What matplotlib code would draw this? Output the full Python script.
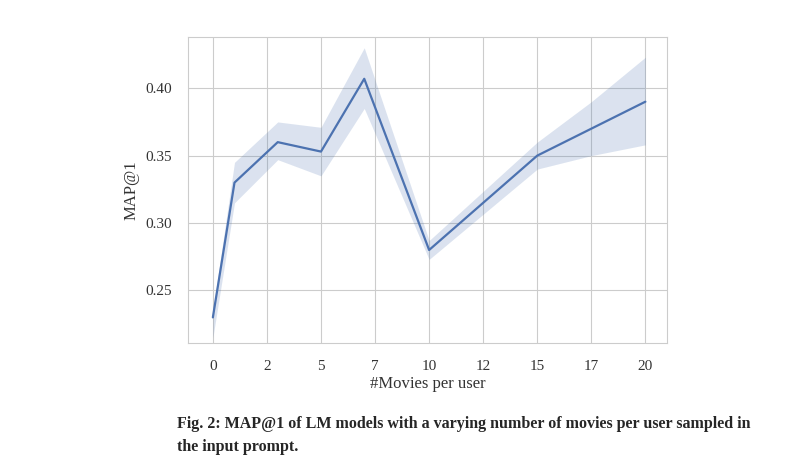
import matplotlib.pyplot as plt
import seaborn as sns
from matplotlib.ticker import FormatStrFormatter

sns.set_style("whitegrid")
plt.rcParams['font.family'] = ['Liberation Serif', 'DejaVu Serif']

movies = [0, 1, 3, 5, 7, 10, 15, 17.5, 20]
map1 = [0.23, 0.33, 0.36, 0.353, 0.407, 0.28, 0.35, 0.37, 0.39]
lower = [0.215, 0.315, 0.347, 0.335, 0.385, 0.273, 0.34, 0.35, 0.358]
upper = [0.235, 0.345, 0.375, 0.371, 0.43, 0.287, 0.36, 0.39, 0.423]

fig = plt.figure(figsize=(8.02, 4.74), dpi=100)
ax = fig.add_axes([188/802, 1-343/474, (667-188)/802, (343-37)/474])
ax.fill_between(movies, lower, upper, color='#4c72b0', alpha=0.2, linewidth=0)
ax.plot(movies, map1, color='#4c72b0', linewidth=1.6)
ax.set_xlim(-1.15, 21)
ax.set_ylim(0.211, 0.438)
ax.set_xticks([0, 2.5, 5, 7.5, 10, 12.5, 15, 17.5, 20])
ax.xaxis.set_major_formatter(FormatStrFormatter('%d'))
ax.set_yticks([0.25, 0.30, 0.35, 0.40])
ax.yaxis.set_major_formatter(FormatStrFormatter('%.2f'))
ax.tick_params(labelsize=11, colors='#333333')
ax.tick_params(axis='x', pad=9)
ax.tick_params(axis='y', pad=8)
ax.set_xlabel('#Movies per user', fontsize=12, color='#333333', labelpad=2)
ax.set_ylabel('MAP@1', fontsize=12, color='#333333')
for s in ax.spines.values():
    s.set_color('#cccccc')

fig.text(177/802, 1-424/474, 'Fig. 2: MAP@1 of LM models with a varying number of movies per user sampled in',
         fontsize=11.5, fontweight='bold', va='center')
fig.text(177/802, 1-447/474, 'the input prompt.', fontsize=11.5, fontweight='bold', va='center')

fig.savefig('out.png', dpi=100)
